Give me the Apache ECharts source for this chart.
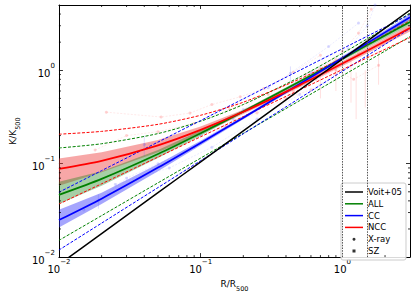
<!DOCTYPE html>
<html><head><meta charset="utf-8">
<script src="https://cdn.jsdelivr.net/npm/echarts@6/dist/echarts.min.js"></script>
<style>html,body{margin:0;padding:0;background:#fff}#c{width:415px;height:297px}</style>
</head><body><div id="c"></div>
<script>
// ---- data ----
const xGrid  = [0.01, 0.02, 0.05, 0.1, 0.2, 0.5, 1, 2, 3];
const voit   = [0.00833, 0.01785, 0.0489, 0.1048, 0.2248, 0.616, 1.32, 2.829, 4.42];
const allFit = [0.0464, 0.0688, 0.127, 0.212, 0.363, 0.757, 1.332, 2.353, 3.288];
const ccFit  = [0.0249, 0.0422, 0.0908, 0.1669, 0.311, 0.7153, 1.3485, 2.547, 3.697];
const nccFit = [0.088, 0.1073, 0.1573, 0.2301, 0.3591, 0.6936, 1.18, 2.041, 2.828];
const allUp  = [0.1473, 0.1635, 0.2101, 0.285, 0.430, 0.847, 1.518, 2.816, 4.081];
const allLo  = [0.0151, 0.0278, 0.0624, 0.1148, 0.2114, 0.4741, 0.873, 1.607, 2.298];
const ccUp   = [0.0495, 0.0843, 0.1704, 0.2901, 0.494, 0.999, 1.700, 2.896, 3.965];
const ccLo   = [0.0119, 0.0231, 0.0555, 0.1078, 0.2092, 0.503, 0.976, 1.894, 2.80];
const nccUp  = [0.2068, 0.2218, 0.2639, 0.330, 0.4552, 0.807, 1.358, 2.401, 3.403];
const nccLo  = [0.037, 0.0609, 0.1178, 0.1942, 0.3197, 0.617, 1.019, 1.678, 2.242];
// shaded uncertainty bands
const allBandLo = [0.037, 0.058, 0.115, 0.199, 0.350, 0.73, 1.27, 2.2, 3.05];
const allBandHi = [0.064, 0.083, 0.140, 0.226, 0.376, 0.785, 1.40, 2.5, 3.55];
const ccBandLo  = [0.0208, 0.037, 0.083, 0.158, 0.300, 0.69, 1.29, 2.42, 3.48];
const ccBandHi  = [0.0322, 0.049, 0.099, 0.176, 0.322, 0.74, 1.41, 2.68, 3.92];
const nccBandLo = [0.058, 0.081, 0.133, 0.208, 0.340, 0.66, 1.11, 1.90, 2.6];
const nccBandHi = [0.114, 0.133, 0.179, 0.250, 0.378, 0.73, 1.25, 2.19, 3.06];
// faint individual profiles
const nccProfiles = [
  [[0.0216,0.356],[0.0526,0.316],[0.084,0.348],[0.12,0.43],[0.19,0.52],[0.28,0.64],[0.45,0.95],[0.7,1.45]],
  [[0.018,0.14],[0.03,0.2],[0.05,0.22],[0.09,0.27],[0.16,0.38],[0.3,0.55],[0.55,0.9],[0.9,1.3]],
  [[0.3,0.45],[0.45,0.6],[0.65,0.8],[0.9,1.0],[1.2,0.8],[1.8,1.13]],
  [[0.15,0.25],[0.25,0.35],[0.4,0.5],[0.6,0.62],[0.9,0.9],[1.3,1.5]],
  [[0.5,0.7],[0.7,1.05],[1.0,1.6],[1.3,2.5],[1.6,4.5]]
];
const ccProfiles = [
  [[0.015,0.032],[0.019,0.04],[0.03,0.07],[0.05,0.1],[0.09,0.15],[0.17,0.3],[0.3,0.65],[0.43,0.93],[0.8,1.8],[1.3,3.2]],
  [[0.04,0.16],[0.1,0.2],[0.2,0.38],[0.35,0.55],[0.6,0.95],[1.1,1.7],[1.5,3.0],[1.7,5]],
  [[0.025,0.06],[0.06,0.09],[0.12,0.15],[0.25,0.3],[0.5,0.55]]
];
const nccErr = [[1.15,0.45,1.35],[1.25,0.3,0.95],[1.8,0.7,1.6],[0.9,0.6,1.2],[1.45,0.4,1.0],[0.7,0.5,0.9]];
const ccErr  = [[0.019,0.033,0.047],[0.04,0.12,0.2],[0.43,0.75,1.1]];
const vLines = [1, 1.5];
const minorX = [0.02,0.03,0.04,0.05,0.06,0.07,0.08,0.09,0.2,0.3,0.4,0.5,0.6,0.7,0.8,0.9,2];
const minorY = [0.02,0.03,0.04,0.05,0.06,0.07,0.08,0.09,0.2,0.3,0.4,0.5,0.6,0.7,0.8,0.9,2,3,4];

const FONT = 'DejaVu Sans';
const pairs = (ys) => xGrid.map((x, i) => [x, ys[i]]);

function supLabel(v) {
  const e = Math.round(Math.log10(v));
  if (Math.abs(v - Math.pow(10, e)) / v > 1e-6) return '';
  return '{b|10}{s|' + (e < 0 ? '\u2212' + (-e) : e) + '}';
}
const richSup = {
  b: {fontSize: 10, fontFamily: FONT, color: '#000', lineHeight: 16, verticalAlign: 'bottom'},
  s: {fontSize: 7, fontFamily: FONT, color: '#000', verticalAlign: 'top'}
};

function bandSeries(name, lo, hi, color) {
  return {
    type: 'custom', name: name, silent: true, z: 1,
    data: xGrid.map((x, i) => [x, lo[i], hi[i]]),
    encode: {x: 0, y: [1, 2]},
    renderItem: function (params, api) {
      if (params.dataIndex !== 0) return null;
      const pts = [];
      for (let i = 0; i < xGrid.length; i++) pts.push(api.coord([xGrid[i], hi[i]]));
      for (let i = xGrid.length - 1; i >= 0; i--) pts.push(api.coord([xGrid[i], lo[i]]));
      return {type: 'polygon', shape: {points: pts, smooth: 0}, style: {fill: color}};
    }
  };
}
function lineSeries(name, ys, color, width, dashed, z) {
  return {
    type: 'line', name: name, data: pairs(ys), symbol: 'none', smooth: 0.25,
    lineStyle: {color: color, width: width, type: dashed ? [3, 1.6] : 'solid'},
    itemStyle: {color: color}, z: z, silent: true, clip: true
  };
}
function profileSeries(name, pts, color, dotColor) {
  return {
    type: 'line', name: name, data: pts, symbol: 'circle', symbolSize: 3,
    lineStyle: {color: color, width: 0.8, type: [2, 1.5]},
    itemStyle: {color: dotColor}, z: 1, silent: true
  };
}
function errSeries(name, errs, color) {
  return {
    type: 'custom', name: name, silent: true, z: 1,
    data: errs, encode: {x: 0, y: [1, 2]},
    renderItem: function (params, api) {
      const a = api.coord([api.value(0), api.value(1)]);
      const b = api.coord([api.value(0), api.value(2)]);
      return {type: 'line', shape: {x1: a[0], y1: a[1], x2: b[0], y2: b[1]}, style: {stroke: color, lineWidth: 1}};
    }
  };
}
function minorTickSeries(vals, isX) {
  return {
    type: 'custom', name: isX ? '_mx' : '_my', silent: true, z: 10,
    data: vals.map(v => isX ? [v, 1] : [0.1, v]),
    renderItem: function (params, api) {
      const cs = params.coordSys;
      const p = api.coord([api.value(0), api.value(1)]);
      const st = {stroke: '#000', lineWidth: 0.8};
      if (isX) {
        return {type: 'group', children: [
          {type: 'line', shape: {x1: p[0], y1: cs.y + cs.height, x2: p[0], y2: cs.y + cs.height - 2}, style: st},
          {type: 'line', shape: {x1: p[0], y1: cs.y, x2: p[0], y2: cs.y + 2}, style: st}
        ]};
      }
      return {type: 'group', children: [
        {type: 'line', shape: {x1: cs.x, y1: p[1], x2: cs.x + 2, y2: p[1]}, style: st},
        {type: 'line', shape: {x1: cs.x + cs.width, y1: p[1], x2: cs.x + cs.width - 2, y2: p[1]}, style: st}
      ]};
    }
  };
}

const series = [];
series.push(bandSeries('_bandNCC', nccBandLo, nccBandHi, 'rgba(238,60,60,0.45)'));
series.push(bandSeries('_bandALL', allBandLo, allBandHi, 'rgba(20,130,20,0.38)'));
series.push(bandSeries('_bandCC', ccBandLo, ccBandHi, 'rgba(40,40,250,0.42)'));
nccProfiles.forEach((p, i) => series.push(profileSeries('_pn' + i, p, 'rgba(255,80,80,0.16)', 'rgba(255,80,80,0.25)')));
ccProfiles.forEach((p, i) => series.push(profileSeries('_pc' + i, p, 'rgba(80,80,255,0.14)', 'rgba(80,80,255,0.22)')));
series.push(errSeries('_en', nccErr, 'rgba(255,80,80,0.18)'));
series.push(errSeries('_ec', ccErr, 'rgba(80,80,255,0.18)'));
series.push(lineSeries('_allUp', allUp, '#008000', 1, true, 2));
series.push(lineSeries('_allLo', allLo, '#008000', 1, true, 2));
series.push(lineSeries('_ccUp', ccUp, '#0000ff', 1, true, 2));
series.push(lineSeries('_ccLo', ccLo, '#0000ff', 1, true, 2));
series.push(lineSeries('_nccUp', nccUp, '#ff0000', 1, true, 2));
series.push(lineSeries('_nccLo', nccLo, '#ff0000', 1, true, 2));
const voitS = lineSeries('Voit+05', voit, '#000000', 1.5, false, 4);
voitS.markLine = {
  symbol: 'none', silent: true, label: {show: false},
  lineStyle: {color: '#555', width: 1, type: [1.5, 1.2]},
  data: vLines.map(v => ({xAxis: v}))
};
series.push(voitS);
series.push(lineSeries('ALL', allFit, '#008000', 1.7, false, 3));
series.push(lineSeries('CC', ccFit, '#0000ff', 1.7, false, 3));
series.push(lineSeries('NCC', nccFit, '#ff0000', 1.7, false, 3));
series.push({type: 'scatter', name: 'X-ray', data: [], symbol: 'circle', symbolSize: 3, itemStyle: {color: '#000'}});
series.push({type: 'scatter', name: 'SZ', data: [], symbol: 'rect', symbolSize: 3, itemStyle: {color: '#000'}});
series.push(minorTickSeries(minorX, true));
series.push(minorTickSeries(minorY, false));

const axisCommon = {
  type: 'log', logBase: 10,
  axisLine: {show: true, onZero: false, lineStyle: {color: '#000', width: 1}},
  axisTick: {show: true, inside: true, length: 4, lineStyle: {color: '#000', width: 0.8}},
  splitLine: {show: false}, minorTick: {show: false}, minorSplitLine: {show: false}
};

const LINE_ICON = 'path://M0,0H12V1H0Z';
const SQ_ICON = 'path://M0,0H1V1H0Z';

const option = {
  animation: false,
  backgroundColor: '#fff',
  grid: {left: 49, right: 5, top: 5, bottom: 33, containLabel: false},
  xAxis: [
    Object.assign({}, axisCommon, {
      min: 0.01, max: 3, position: 'bottom',
      axisLabel: {show: true, margin: 1, formatter: supLabel, rich: richSup, showMaxLabel: false},
      name: '{n|R/R}{sub|500}', nameLocation: 'middle', nameGap: 16,
      nameTextStyle: {rich: {
        n: {fontSize: 9, fontFamily: FONT, color: '#000', lineHeight: 13, verticalAlign: 'top'},
        sub: {fontSize: 6.5, fontFamily: FONT, color: '#000', verticalAlign: 'bottom'}
      }}
    }),
    Object.assign({}, axisCommon, {min: 0.01, max: 3, position: 'top', axisLabel: {show: false}})
  ],
  yAxis: [
    Object.assign({}, axisCommon, {
      min: 0.01, max: 5, position: 'left',
      axisLabel: {show: true, margin: 4, formatter: supLabel, rich: richSup, showMaxLabel: false},
      name: '{n|K/K}{sub|500}', nameLocation: 'middle', nameGap: 35, nameRotate: 90,
      nameTextStyle: {rich: {
        n: {fontSize: 9, fontFamily: FONT, color: '#000', lineHeight: 13, verticalAlign: 'top'},
        sub: {fontSize: 6.5, fontFamily: FONT, color: '#000', verticalAlign: 'bottom'}
      }}
    }),
    Object.assign({}, axisCommon, {min: 0.01, max: 5, position: 'right', axisLabel: {show: false}})
  ],
  legend: {
    data: [
      {name: 'Voit+05', icon: LINE_ICON}, {name: 'ALL', icon: LINE_ICON},
      {name: 'CC', icon: LINE_ICON}, {name: 'NCC', icon: LINE_ICON},
      {name: 'X-ray', icon: 'circle'}, {name: 'SZ', icon: SQ_ICON}
    ],
    orient: 'vertical', left: 341, top: 183,
    itemWidth: 18, itemHeight: 3, itemGap: 1.8,
    symbolKeepAspect: true,
    padding: [4, 4, 4, 4],
    textStyle: {fontSize: 8.5, fontFamily: FONT, color: '#000', lineHeight: 10},
    backgroundColor: 'rgba(255,255,255,0.85)', borderColor: '#ccc', borderWidth: 1, borderRadius: 2,
    selectedMode: false
  },
  series: series
};

const chart = echarts.init(document.getElementById('c'), null, {renderer: 'svg'});
chart.setOption(option);
</script>
</body></html>
